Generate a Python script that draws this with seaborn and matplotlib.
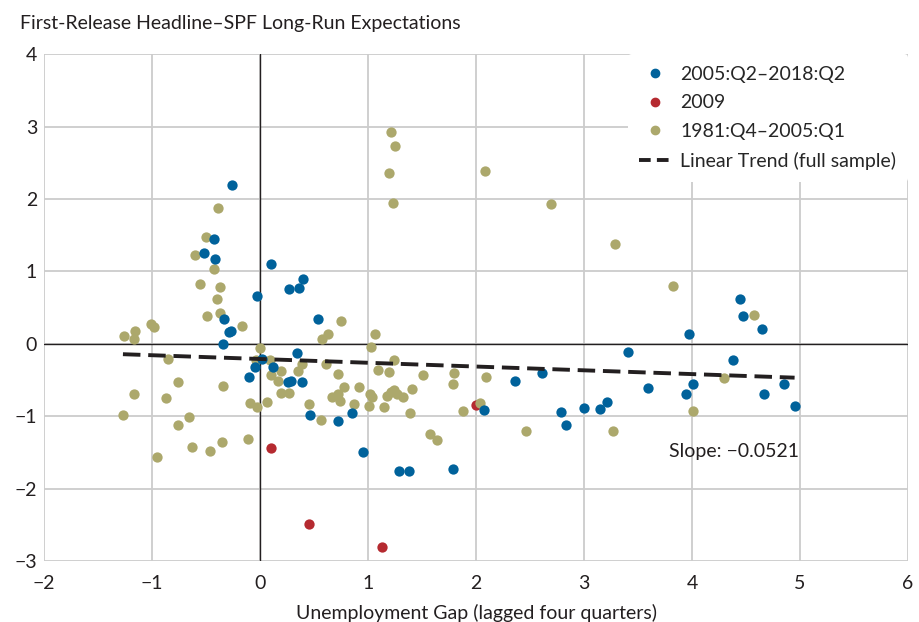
import numpy as np
import pandas as pd
import matplotlib
matplotlib.use("Agg")
import matplotlib.pyplot as plt
import seaborn as sns
from matplotlib.lines import Line2D

# 2005:Q2-2018:Q2 (blue)
recent_x = [-0.26, -0.43, -0.52, -0.42, 0.10, 0.395, 0.27, 0.36, -0.03, -0.33, 0.54, -0.29, -0.27,
            -0.34, 0.34, 0.02, -0.05, 0.12, 0.26, 0.29, 0.39, -0.10, 0.46, 0.72, 0.85, 0.95, 1.29,
            1.38, 1.79, 2.07, 2.36, 2.61, 3.41, 3.59, 2.79, 2.83, 3.00, 3.15, 3.21, 3.97, 4.44,
            4.47, 4.65, 4.38, 4.01, 3.94, 4.67, 4.85, 4.95]
recent_y = [2.19, 1.45, 1.25, 1.17, 1.10, 0.89, 0.76, 0.77, 0.66, 0.34, 0.34, 0.16, 0.18,
            0.00, -0.13, -0.21, -0.32, -0.32, -0.53, -0.51, -0.53, -0.46, -0.98, -1.07, -0.95, -1.49, -1.75,
            -1.75, -1.73, -0.91, -0.52, -0.41, -0.11, -0.61, -0.94, -1.12, -0.88, -0.90, -0.81, 0.14, 0.62,
            0.39, 0.21, -0.22, -0.56, -0.70, -0.69, -0.55, -0.86]

# 2009 (red)
y2009_x = [0.10, 0.45, 1.13, 2.00]
y2009_y = [-1.44, -2.49, -2.80, -0.84]

# 1981:Q4-2005:Q1 (olive)
early_x = [-0.39, -0.50, -0.60, -0.43, -0.56, -0.37, -0.40, -0.37, -0.49, 0.75, -0.17, -1.01, -0.98,
           -1.26, -1.16, -1.17, 0.57, 0.63, 0.00, -0.85, 0.61, -0.04, 0.09, 0.19, 0.39, 0.35, 0.10,
           0.17, 0.72, 0.78, 0.19, 0.27, 0.67, 0.72, 0.74, -0.76, -1.17, -0.87, -0.34, -0.09, -0.03,
           0.06, 0.45, 0.56, -1.27, -0.66, -0.76, -0.63, -0.46, -0.35, -0.11, -0.95, 1.06, 1.03,
           0.92, 1.09, 1.19, 1.24, 1.51, 1.80, 1.79, 2.09, 1.41, 1.02, 1.04, 1.18, 1.24, 1.27, 1.21,
           1.32, 0.87, 1.01, 1.15, 1.39, 1.57, 1.64, 1.88, 2.04, 2.46, 3.27, 1.21, 1.25, 1.19, 1.23,
           2.08, 2.69, 3.29, 3.82, 4.57, 4.30, 4.01]
early_y = [1.87, 1.48, 1.22, 1.03, 0.82, 0.78, 0.62, 0.43, 0.38, 0.32, 0.25, 0.28, 0.23,
           0.11, 0.17, 0.06, 0.07, 0.14, -0.06, -0.21, -0.28, -0.22, -0.22, -0.38, -0.28, -0.37, -0.43,
           -0.51, -0.42, -0.60, -0.68, -0.68, -0.73, -0.69, -0.79, -0.53, -0.69, -0.75, -0.58, -0.82, -0.87,
           -0.80, -0.83, -1.05, -0.98, -1.01, -1.12, -1.43, -1.48, -1.36, -1.31, -1.57, 0.13, -0.04,
           -0.60, -0.36, -0.39, -0.23, -0.43, -0.40, -0.55, -0.46, -0.63, -0.70, -0.74, -0.72, -0.64, -0.70, -0.66,
           -0.73, -0.83, -0.86, -0.87, -0.96, -1.24, -1.33, -0.93, -0.82, -1.20, -1.20, 2.92, 2.73, 2.36, 1.94,
           2.39, 1.93, 1.38, 0.80, 0.40, -0.47, -0.93]

trend_slope = -0.0521
trend_intercept = -0.21

blue = "#00629b"
red = "#b52a30"
olive = "#aca86c"
ink = "#231f20"

sns.set_theme(style="white")
plt.rcParams['font.family'] = ['Lato', 'DejaVu Sans']
plt.rcParams['axes.unicode_minus'] = True
fs = 14

fig = plt.figure(figsize=(9.19, 6.22), dpi=100)
ax = fig.add_axes([0.048, 0.098, 0.940, 0.815])

# red first, then olive, blue on top (as in the original)
sns.scatterplot(x=y2009_x, y=y2009_y, color=red, s=55, linewidth=0, ax=ax, zorder=3)
sns.scatterplot(x=early_x, y=early_y, color=olive, s=55, linewidth=0, ax=ax, zorder=3)
sns.scatterplot(x=recent_x, y=recent_y, color=blue, s=55, linewidth=0, ax=ax, zorder=3)

all_x = np.array(recent_x + y2009_x + early_x)
tx = np.array([all_x.min(), all_x.max()])
sns.lineplot(x=tx, y=trend_intercept + trend_slope * tx, color=ink, lw=2.8,
             dashes=(4.5, 2), ax=ax, zorder=4)

ax.set_xlim(-2, 6)
ax.set_ylim(-3, 4)
ax.set_xticks(range(-2, 7))
ax.set_yticks(range(-3, 5))
ax.grid(True, color="#cccccc", lw=1.3)
ax.axhline(0, color=ink, lw=1, zorder=2)
ax.axvline(0, color=ink, lw=1, zorder=2)
for s in ax.spines.values():
    s.set_visible(False)
ax.tick_params(axis="both", length=0, labelsize=fs, colors=ink)
ax.tick_params(axis="y", pad=5)
ax.tick_params(axis="x", pad=10)
ax.set_xlabel("Unemployment Gap (lagged four quarters)", fontsize=fs, color=ink, labelpad=9)
ax.set_ylabel("")

fig.text(0.022, 0.962, "First-Release Headline\u2013SPF Long-Run Expectations", fontsize=fs,
         color=ink, va="center")
ax.text(3.79, -1.49, "Slope: \u22120.0521", fontsize=fs, color=ink, va="center")

handles = [
    Line2D([], [], marker="o", ls="", color=blue, markersize=6),
    Line2D([], [], marker="o", ls="", color=red, markersize=6),
    Line2D([], [], marker="o", ls="", color=olive, markersize=6),
    Line2D([], [], color=ink, lw=2.8, dashes=(3, 1.6)),
]
labels = ["2005:Q2\u20132018:Q2", "2009", "1981:Q4\u20132005:Q1", "Linear Trend (full sample)"]
leg = ax.legend(handles, labels, loc="upper right", fontsize=fs, frameon=True, framealpha=1,
                edgecolor="white", facecolor="white", handlelength=1.6, handletextpad=0.5,
                labelspacing=0.6, borderaxespad=0.0, borderpad=0.6)
leg.get_frame().set_linewidth(0)
leg.set_zorder(5)

fig.savefig("out.png", dpi=100)
